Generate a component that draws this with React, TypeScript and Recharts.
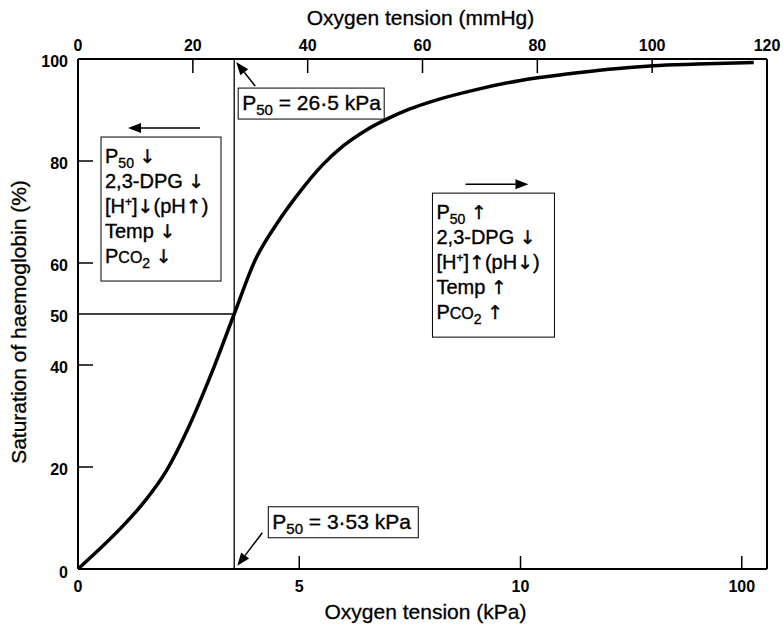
import React from "react";
import {
  LineChart,
  Line,
  XAxis,
  YAxis,
  ReferenceLine,
  ReferenceDot,
} from "recharts";

// oxygen tension (kPa) and haemoglobin saturation (%)
const kpa = [0, 0.5, 1, 1.5, 2, 2.5, 3, 3.53, 4, 4.5, 5, 5.5, 6, 6.5, 7, 7.5, 8, 9, 10, 11, 12, 13, 14, 15.27];
const saturation = [0, 4, 8.3, 13.2, 19.3, 27.8, 38, 50, 60.5, 67.8, 73.8, 79, 83, 86, 88.3, 90.2, 91.7, 94, 95.8, 97, 98, 98.7, 99, 99.3];

const kpaTicks = [0, 5, 10, 15];
const kpaTickLabels = ["0", "5", "10", "100"];
const mmhgTicks = [0, 20, 40, 60, 80, 100, 120];
const satTicks = [0, 20, 40, 50, 60, 80, 100];

const P50 = 3.53;
const X_MAX = 15.57;

const data = kpa.map((k, i) => ({ kpa: k, sat: saturation[i] }));

const FONT = "'Liberation Sans', Arial, sans-serif";
const ARROW_FONT = "'DejaVu Sans', sans-serif";

const BottomTick = (p: any) => {
  const v = p.payload.value;
  const i = kpaTicks.indexOf(v);
  const axisY = p.y - 17;
  return (
    <g>
      {v !== 0 && <line x1={p.x} x2={p.x} y1={axisY} y2={axisY - 13} stroke="#000" strokeWidth={1.5} />}
      <text x={p.x} y={p.y} textAnchor="middle" dominantBaseline="central" fontFamily={FONT} fontWeight="bold" fontSize={16} fill="#000">
        {kpaTickLabels[i]}
      </text>
    </g>
  );
};

const TopTick = (p: any) => {
  const v = p.payload.value;
  const axisY = p.y + 14;
  return (
    <g>
      {v !== 0 && v !== 120 && <line x1={p.x} x2={p.x} y1={axisY} y2={axisY + 14} stroke="#000" strokeWidth={1.5} />}
      <text x={p.x} y={p.y} textAnchor="middle" dominantBaseline="central" fontFamily={FONT} fontWeight="bold" fontSize={16} fill="#000">
        {v}
      </text>
    </g>
  );
};

const LeftTick = (p: any) => {
  const v = p.payload.value;
  const axisX = p.x + 10;
  return (
    <g>
      {v !== 0 && v !== 50 && v !== 100 && <line x1={axisX} x2={axisX + 15} y1={p.y} y2={p.y} stroke="#000" strokeWidth={1.5} />}
      <text x={p.x} y={p.y + (v === 0 ? 3 : 2)} textAnchor="end" dominantBaseline="central" fontFamily={FONT} fontWeight="bold" fontSize={16} fill="#000">
        {v}
      </text>
    </g>
  );
};

const Arrow = ({ x1, y1, x2, y2 }: any) => {
  const a = Math.atan2(y2 - y1, x2 - x1);
  const len = 13;
  const wid = 5;
  const bx = x2 - len * Math.cos(a);
  const by = y2 - len * Math.sin(a);
  const px = -Math.sin(a) * wid;
  const py = Math.cos(a) * wid;
  return (
    <g>
      <line x1={x1} y1={y1} x2={bx} y2={by} stroke="#000" strokeWidth={1.5} />
      <polygon points={`${x2},${y2} ${bx + px},${by + py} ${bx - px},${by - py}`} fill="#000" />
    </g>
  );
};

const txt = { fontFamily: FONT, fontSize: 20, fill: "#000", stroke: "#000", strokeWidth: 0.35 };

const Arr = ({ c }: { c: string }) => (
  <tspan fontFamily={ARROW_FONT} fontSize={19}>{c}</tspan>
);

const P50Label = ({ value }: { value: string }) => (
  <>
    <tspan>P</tspan>
    <tspan dy={5} fontSize={15}>50</tspan>
    <tspan dy={-5}>{" = " + value}</tspan>
  </>
);

const BoxHigh = (p: any) => {
  const { cx, cy } = p;
  return (
    <g>
      <Arrow x1={cx + 17} y1={cy - 2} x2={cx - 2} y2={cy - 26} />
      <rect x={cx} y={cy} width={146} height={31} fill="#fff" stroke="#000" strokeWidth={1} />
      <text x={cx + 4} y={cy + 22} {...txt} fontSize={21}>
        <P50Label value="26·5 kPa" />
      </text>
    </g>
  );
};

const BoxLow = (p: any) => {
  const { cx, cy } = p;
  return (
    <g>
      <Arrow x1={cx - 6} y1={cy + 26} x2={cx - 31} y2={cy + 59} />
      <rect x={cx} y={cy} width={150} height={31} fill="#fff" stroke="#000" strokeWidth={1} />
      <text x={cx + 4} y={cy + 22} {...txt} fontSize={21}>
        <P50Label value="3·53 kPa" />
      </text>
    </g>
  );
};

const ShiftBox = ({ cx, cy, up, width, arrow }: any) => {
  const d = up ? "↑" : "↓";
  const rows = [
    <>
      <tspan>P</tspan>
      <tspan dy={5} fontSize={14}>50</tspan>
      <tspan dy={-5}> </tspan>
      <Arr c={d} />
    </>,
    <>
      <tspan>2,3-DPG </tspan>
      <Arr c="↓" />
    </>,
    <>
      <tspan>[H</tspan>
      <tspan dy={-7} fontSize={12}>+</tspan>
      <tspan dy={7}>]</tspan>
      <Arr c={d} />
      <tspan>(pH</tspan>
      <Arr c={up ? "↓" : "↑"} />
      <tspan>)</tspan>
    </>,
    <>
      <tspan>Temp </tspan>
      <Arr c={d} />
    </>,
    <>
      <tspan>P</tspan>
      <tspan fontSize={16}>CO</tspan>
      <tspan dy={5} fontSize={14}>2</tspan>
      <tspan dy={-5}> </tspan>
      <Arr c={d} />
    </>,
  ];
  return (
    <g>
      <Arrow x1={cx + arrow[0]} y1={cy - 9} x2={cx + arrow[1]} y2={cy - 9} />
      <rect x={cx} y={cy} width={width} height={144} fill="#fff" stroke="#000" strokeWidth={1} />
      {rows.map((r, i) => (
        <text key={i} x={cx + 4} y={cy + 26 + i * 25} {...txt}>
          {r}
        </text>
      ))}
    </g>
  );
};

export default function App() {
  return (
    <div style={{ position: "absolute", left: 0, top: 0, background: "#fff" }}>
      <LineChart width={784} height={628} data={data} margin={{ top: 0, right: 17, bottom: 0, left: 0 }}>
        <XAxis
          xAxisId="kpa"
          dataKey="kpa"
          type="number"
          domain={[0, X_MAX]}
          allowDataOverflow
          ticks={kpaTicks}
          interval={0}
          height={59}
          tickSize={0}
          tickMargin={17}
          tickLine={false}
          tick={(p: any) => <BottomTick {...p} />}
          axisLine={{ stroke: "#000", strokeWidth: 2 }}
          label={(p: any) => (
            <text x={p.viewBox.x + p.viewBox.width / 2 + 3} y={p.viewBox.y + 42} textAnchor="middle" dominantBaseline="central" fontFamily={FONT} fontSize={21} fill="#000" stroke="#000" strokeWidth={0.3}>
              Oxygen tension (kPa)
            </text>
          )}
        />
        <XAxis
          xAxisId="mmhg"
          dataKey="sat"
          orientation="top"
          type="number"
          domain={[0, 120]}
          allowDataOverflow
          ticks={mmhgTicks}
          interval={0}
          height={59}
          tickSize={0}
          tickMargin={14}
          tickLine={false}
          tick={(p: any) => <TopTick {...p} />}
          axisLine={{ stroke: "#000", strokeWidth: 2 }}
          label={(p: any) => (
            <text x={p.viewBox.x + p.viewBox.width / 2 - 2} y={17} textAnchor="middle" dominantBaseline="central" fontFamily={FONT} fontSize={21} fill="#000" stroke="#000" strokeWidth={0.3}>
              Oxygen tension (mmHg)
            </text>
          )}
        />
        <YAxis
          type="number"
          domain={[0, 100]}
          ticks={satTicks}
          interval={0}
          width={78}
          tickSize={0}
          tickMargin={10}
          tickLine={false}
          tick={(p: any) => <LeftTick {...p} />}
          axisLine={{ stroke: "#000", strokeWidth: 2 }}
          label={() => {
            const cx = 18;
            const cy = 322;
            return (
              <text x={cx} y={cy} transform={`rotate(-90 ${cx} ${cy})`} textAnchor="middle" dominantBaseline="central" fontFamily={FONT} fontSize={21} fill="#000" stroke="#000" strokeWidth={0.3}>
                Saturation of haemoglobin (%)
              </text>
            );
          }}
        />
        <ReferenceLine xAxisId="kpa" x={X_MAX} stroke="#000" strokeWidth={2} />
        <ReferenceLine xAxisId="kpa" x={P50} stroke="#000" strokeWidth={1.3} />
        <ReferenceLine
          xAxisId="kpa"
          segment={[
            { x: 0, y: 50 },
            { x: P50, y: 50 },
          ]}
          stroke="#000"
          strokeWidth={1.3}
        />
        <Line
          xAxisId="kpa"
          type="monotone"
          dataKey="sat"
          stroke="#000"
          strokeWidth={3.5}
          dot={false}
          isAnimationActive={false}
        />
        <ReferenceDot xAxisId="kpa" x={3.62} y={94.3} r={0} shape={(p: any) => <BoxHigh {...p} />} />
        <ReferenceDot xAxisId="kpa" x={4.3} y={12.2} r={0} shape={(p: any) => <BoxLow {...p} />} />
        <ReferenceDot xAxisId="kpa" x={0.52} y={84.7} r={0} shape={(p: any) => <ShiftBox {...p} up={false} width={120} arrow={[99, 27]} />} />
        <ReferenceDot xAxisId="kpa" x={8.01} y={73.7} r={0} shape={(p: any) => <ShiftBox {...p} up={true} width={122} arrow={[33, 96]} />} />
      </LineChart>
    </div>
  );
}
